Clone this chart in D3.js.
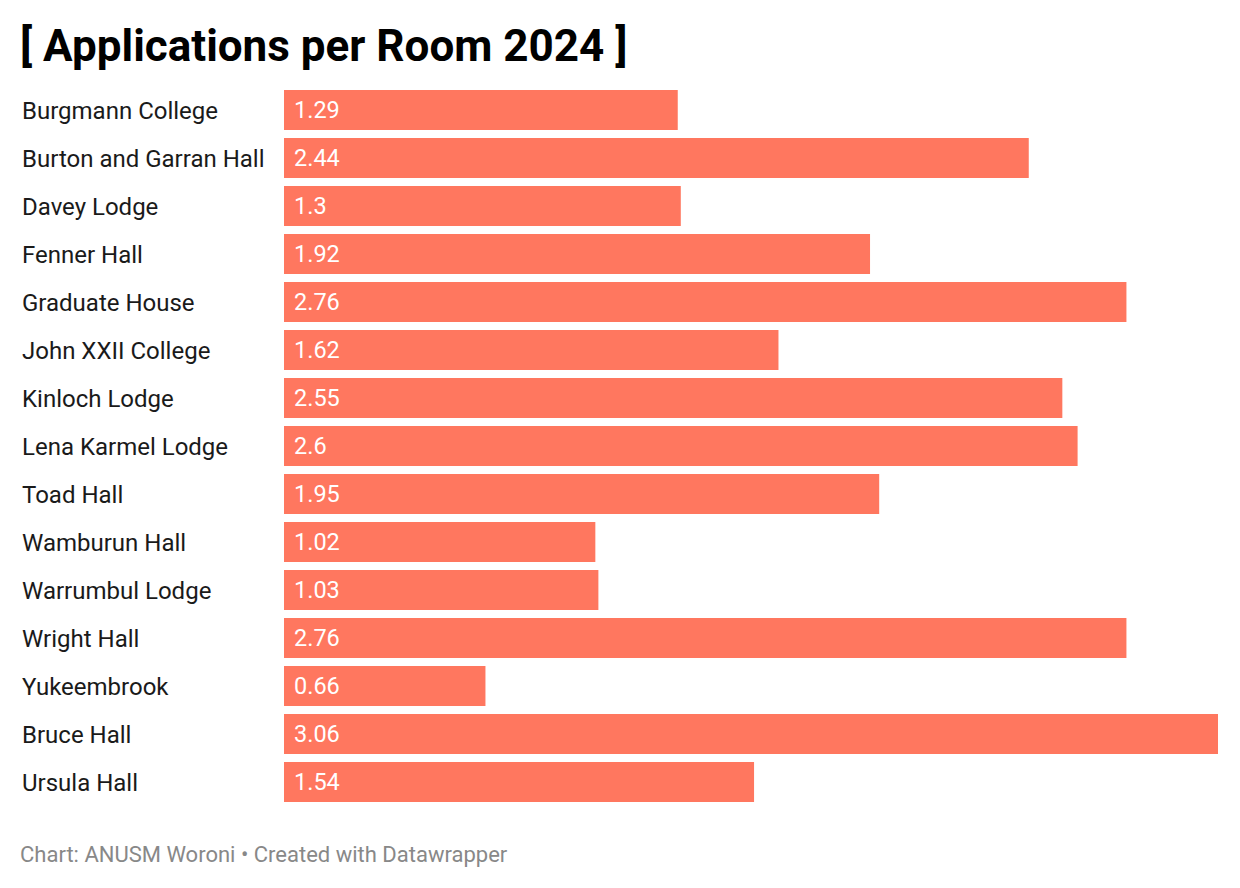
<!DOCTYPE html>
<html><head><meta charset="utf-8">
<script src="https://cdn.jsdelivr.net/npm/d3@7"></script>
<style>
html,body{margin:0;padding:0;background:#fff;}
svg{display:block;font-family:Roboto,"Noto Sans",sans-serif;}
</style></head>
<body>
<svg id="chart" width="1240" height="888"></svg>
<script>
const categories = ["Burgmann College","Burton and Garran Hall","Davey Lodge","Fenner Hall","Graduate House","John XXII College","Kinloch Lodge","Lena Karmel Lodge","Toad Hall","Wamburun Hall","Warrumbul Lodge","Wright Hall","Yukeembrook","Bruce Hall","Ursula Hall"];
const values = [1.29,2.44,1.3,1.92,2.76,1.62,2.55,2.6,1.95,1.02,1.03,2.76,0.66,3.06,1.54];
const labels = ["1.29","2.44","1.3","1.92","2.76","1.62","2.55","2.6","1.95","1.02","1.03","2.76","0.66","3.06","1.54"];
const title = "[ Applications per Room 2024 ]";
const footer = "Chart: ANUSM Woroni • Created with Datawrapper";

const svg = d3.select("#chart");
const data = categories.map((c,i)=>({c, v: values[i], l: labels[i]}));

const x = d3.scaleLinear().domain([0, 3.06]).range([284, 1218]);
const y = d3.scaleBand().domain(categories).range([86, 806]).paddingInner(1/6).paddingOuter(1/12);

svg.append("text").attr("x", 20).attr("y", 61)
  .attr("font-size", 44).attr("font-weight", 700).attr("fill", "#000")
  .text(title);

const g = svg.append("g");
g.selectAll("rect").data(data).join("rect")
  .attr("x", x(0)).attr("y", d=>y(d.c))
  .attr("width", d=>x(d.v)-x(0)).attr("height", y.bandwidth())
  .attr("fill", "#ff775f");

g.selectAll("text.cat").data(data).join("text").attr("class","cat")
  .attr("x", 22).attr("y", d=>y(d.c)+y.bandwidth()/2)
  .attr("dy", "0.36em").attr("font-size", 24).attr("fill", "#1a1a1a")
  .text(d=>d.c);

g.selectAll("text.val").data(data).join("text").attr("class","val")
  .attr("x", x(0)+10).attr("y", d=>y(d.c)+y.bandwidth()/2)
  .attr("dy", "0.36em").attr("font-size", 23.5).attr("fill", "#fff")
  .text(d=>d.l);

svg.append("text").attr("x", 20).attr("y", 862)
  .attr("font-size", 22).attr("fill", "#888")
  .text(footer);
</script>
</body></html>
